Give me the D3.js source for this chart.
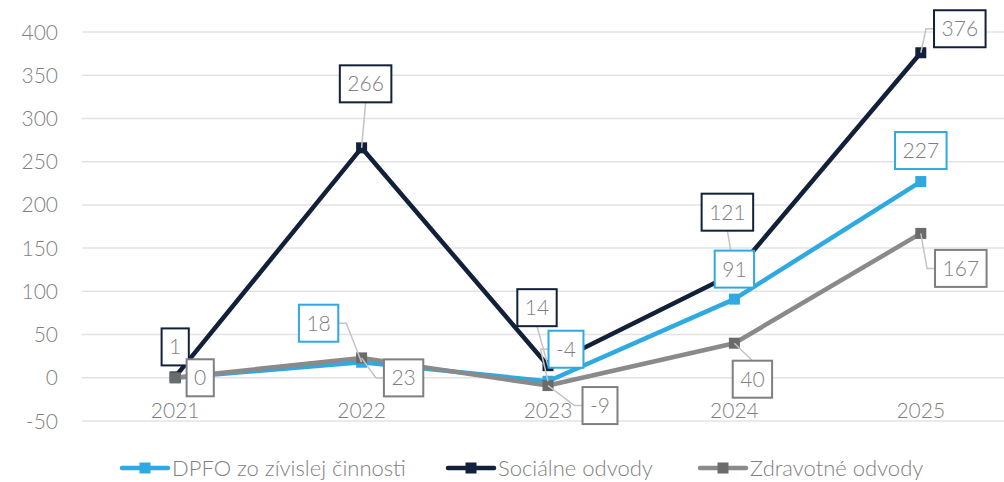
<!DOCTYPE html>
<html>
<head>
<meta charset="utf-8">
<script src="https://cdn.jsdelivr.net/npm/d3@7"></script>
<style>
  body { margin: 0; background: #fff; }
  text { font-family: Lato, "Open Sans", sans-serif; font-weight: 300; }
</style>
</head>
<body>
<div id="chart"></div>
<script>
// data
var years = ["2021", "2022", "2023", "2024", "2025"];
var seriesNames = ["DPFO zo zívislej činnosti", "Sociálne odvody", "Zdravotné odvody"];
var dpfo = [0, 18, -4, 91, 227];
var socialne = [1, 266, 14, 121, 376];
var zdravotne = [0, 23, -9, 40, 167];
var yTicks = [-50, 0, 50, 100, 150, 200, 250, 300, 350, 400];

// label placement (pixel offsets of label centre from the point; null = no label)
var dpfoLabelPos = [null, [-43, -39, 1], [18, -32, 1], [0, -30, 0], [0, -31, 0]];
var socLabelPos = [[0, -30, 0], [4, -64, 1], [-11, -58, 1], [-7, -61, 1], [39, -24, 1]];
var zdrLabelPos = [[25, 0, 0], [42, 20, 1], [52, 20, 1], [18, 36, 1], [40, 35, 1]];

var width = 1004, height = 482;

var svg = d3.select("#chart")
  .append("svg")
    .attr("width", width)
    .attr("height", height);

var x = d3.scalePoint()
  .domain(years)
  .range([82, 1014])
  .padding(0.5);

var y = d3.scaleLinear()
  .domain([-50, 400])
  .range([421, 32]);

// grid lines
svg.append("g")
  .selectAll("line")
  .data(yTicks)
  .enter()
  .append("line")
    .attr("x1", 82)
    .attr("x2", 1004)
    .attr("y1", function(d) { return y(d); })
    .attr("y2", function(d) { return y(d); })
    .attr("stroke", "#e3e3e3")
    .attr("stroke-width", 1.5);

// Y axis labels
svg.append("g")
  .selectAll("text")
  .data(yTicks)
  .enter()
  .append("text")
    .attr("x", 58)
    .attr("y", function(d) { return y(d); })
    .attr("dy", "0.36em")
    .attr("text-anchor", "end")
    .attr("font-size", 21)
    .attr("fill", "#7f7f7f")
    .text(function(d) { return d; });

// X axis labels
svg.append("g")
  .selectAll("text")
  .data(years)
  .enter()
  .append("text")
    .attr("x", function(d) { return x(d); })
    .attr("y", 418)
    .attr("text-anchor", "middle")
    .attr("font-size", 21)
    .attr("fill", "#7f7f7f")
    .text(function(d) { return d; });

var series = [
  { name: seriesNames[0], values: dpfo, labels: dpfoLabelPos, color: "#2fa9e1", marker: "#2fa9e1" },
  { name: seriesNames[1], values: socialne, labels: socLabelPos, color: "#13203a", marker: "#13203a" },
  { name: seriesNames[2], values: zdravotne, labels: zdrLabelPos, color: "#8a8a8a", marker: "#6b6b6b" }
];

var line = d3.line()
  .x(function(d, i) { return x(years[i]); })
  .y(function(d) { return y(d); });

var ms = 11;

series.forEach(function(s) {
  svg.append("path")
    .datum(s.values)
    .attr("d", line)
    .attr("fill", "none")
    .attr("stroke", s.color)
    .attr("stroke-width", 4.5)
    .attr("stroke-linejoin", "round");

  svg.append("g")
    .selectAll("rect")
    .data(s.values)
    .enter()
    .append("rect")
      .attr("x", function(d, i) { return x(years[i]) - ms / 2; })
      .attr("y", function(d) { return y(d) - ms / 2; })
      .attr("width", ms)
      .attr("height", ms)
      .attr("fill", s.marker);
});

// data labels (drawn after all lines so boxes sit on top)
var labelLayer = svg.append("g");
series.forEach(function(s) {
  s.values.forEach(function(v, i) {
    var pos = s.labels[i];
    if (!pos) return;
    var px = x(years[i]), py = y(v);
    var cx = px + pos[0], cy = py + pos[1];
    var g = labelLayer.append("g");
    var t = g.append("text")
      .attr("x", cx)
      .attr("y", cy)
      .attr("dy", "0.36em")
      .attr("text-anchor", "middle")
      .attr("font-size", 21)
      .attr("fill", "#7f7f7f")
      .text(v);
    var w = t.node().getComputedTextLength() + 15;
    var h = 37;
    if (pos[2]) {
      // leader line: from side with a short elbow, or from top/bottom
      var pts;
      if (Math.abs(pos[0]) > w / 2) {
        var sx = pos[0] > 0 ? cx - w / 2 : cx + w / 2;
        var ex = pos[0] > 0 ? sx - 8 : sx + 8;
        pts = [[sx, cy], [ex, cy], [px, py]];
      } else {
        var sy = pos[1] < 0 ? cy + h / 2 : cy - h / 2;
        pts = [[cx, sy], [px, py]];
      }
      labelLayer.insert("path", ":first-child")
        .attr("d", d3.line()(pts))
        .attr("fill", "none")
        .attr("stroke", "#c4c4c4")
        .attr("stroke-width", 1.5);
    }
    g.insert("rect", "text")
      .attr("x", cx - w / 2)
      .attr("y", cy - h / 2)
      .attr("width", w)
      .attr("height", h)
      .attr("fill", "#fff")
      .attr("stroke", s.name === seriesNames[2] ? "#7f7f7f" : s.color)
      .attr("stroke-width", 2);
  });
});

// legend
var legendX = [122, 448, 700];
var legend = svg.append("g");
series.forEach(function(s, i) {
  var lx = legendX[i], ly = 468;
  legend.append("line")
    .attr("x1", lx).attr("x2", lx + 46)
    .attr("y1", ly).attr("y2", ly)
    .attr("stroke", s.color)
    .attr("stroke-width", 4.5)
    .attr("stroke-linecap", "round");
  legend.append("rect")
    .attr("x", lx + 23 - ms / 2)
    .attr("y", ly - ms / 2)
    .attr("width", ms)
    .attr("height", ms)
    .attr("fill", s.marker);
  legend.append("text")
    .attr("x", lx + 50)
    .attr("y", ly)
    .attr("dy", "0.36em")
    .attr("font-size", 22)
    .attr("fill", "#7f7f7f")
    .text(s.name);
});
</script>
</body>
</html>
